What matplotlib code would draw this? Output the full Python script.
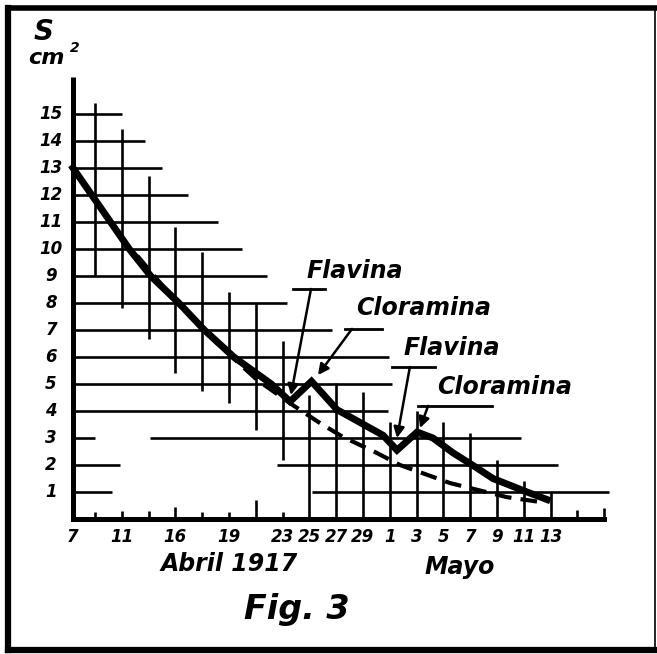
import matplotlib
matplotlib.use('Agg')
import matplotlib.pyplot as plt

# x is measured in tick steps (the y axis sits at 0, tick k sits at 0.82 + k - 1)
tick_pos = [0] + [0.82 + k for k in range(20)]
tick_labels = {0: '7', 2: '11', 4: '16', 6: '19', 8: '23', 9: '25', 10: '27', 11: '29',
               12: '1', 13: '3', 14: '5', 15: '7', 16: '9', 17: '11', 18: '13'}
y_levels = list(range(1, 16))

# measured surface, cm2
solid_x = [0, 0.7, 1.4, 2.1, 2.9, 3.95, 4.9, 6.0, 7.4, 8.1, 8.9, 9.85, 11.57, 12.09,
           12.84, 13.43, 14.18, 14.9, 15.67, 16.94, 17.69]
solid_y = [13.0, 12.0, 11.0, 10.0, 9.0, 8.0, 7.0, 6.0, 5.0, 4.35, 5.1, 4.05, 3.1, 2.55,
           3.22, 3.0, 2.45, 2.0, 1.5, 1.0, 0.72]
# expected curve without treatment
dash_x = [2.4, 3.88, 5.37, 6.87, 8.2, 9.22, 10.07, 11.27, 12.2, 14.07, 16.19, 17.43]
dash_y = [9.75, 8.0, 6.52, 5.15, 4.22, 3.55, 3.04, 2.48, 2.0, 1.33, 0.81, 0.63]

# staircase grid of the original drawing
h_segments = {15: [(0, 1.83)], 14: [(0, 2.69)], 13: [(0, 3.32)], 12: [(0, 4.29)],
              11: [(0, 5.41)], 10: [(0, 6.31)], 9: [(0, 7.24)], 8: [(0, 7.99)],
              7: [(0, 9.66)], 6: [(0, 11.8)], 5: [(0, 11.9)], 4: [(0, 11.75)],
              3: [(0, 0.82), (2.87, 16.7)], 2: [(0, 1.75), (7.61, 18.1)],
              1: [(0, 1.46), (8.92, 20.0)]}
v_upper = {1: (9.0, 15.4), 2: (7.8, 14.45), 3: (6.67, 12.7), 4: (5.4, 10.8),
           5: (4.75, 9.9), 6: (4.3, 8.4), 7: (3.3, 8.0), 8: (2.2, 6.6)}
v_ticks = {1: 0.25, 2: 0.3, 3: 0.3, 4: 0.45, 5: 0.25, 6: 0.25, 7: 0.7, 8: 0.25}
v_full = {9: 4.6, 10: 5.05, 11: 4.7, 12: 3.6, 13: 4.0, 14: 3.6, 15: 3.2, 16: 2.2,
          17: 1.4, 18: 1.0, 19: 0.35, 20: 0.4}

# annotations: text, text pos, bar (x0, x1, y), arrow start, arrow tip
notes = [('Flavina', (10.52, 9.19), (8.21, 9.40, 8.52), (8.88, 8.52), (8.13, 4.59)),
         ('Cloramina', (13.1, 7.81), (10.15, 11.53, 7.04), (10.41, 7.04), (9.14, 5.33)),
         ('Flavina', (14.14, 6.33), (11.9, 13.5, 5.63), (12.57, 5.63), (12.09, 3.0)),
         ('Cloramina', (16.12, 4.89), (12.87, 15.63, 4.2), (13.25, 4.19), (12.95, 3.37))]

fig = plt.figure(figsize=(6.57, 6.54), dpi=100)
ax = fig.add_axes([0, 0, 1, 1])
ax.set_xlim(-73 / 26.8, 584 / 26.8)
ax.set_ylim((519 - 654) / 27, 519 / 27)
ax.axis('off')

bi = dict(fontweight='bold', style='italic', color='black')
glw = 1.9

for y, segs in h_segments.items():
    for x0, x1 in segs:
        ax.plot([x0, x1], [y, y], color='black', lw=glw, solid_capstyle='butt')
for k, (y0, y1) in v_upper.items():
    ax.plot([tick_pos[k]] * 2, [y0, y1], color='black', lw=glw, solid_capstyle='butt')
for k, h in v_ticks.items():
    ax.plot([tick_pos[k]] * 2, [0, h], color='black', lw=glw, solid_capstyle='butt')
for k, h in v_full.items():
    ax.plot([tick_pos[k]] * 2, [0, h], color='black', lw=glw, solid_capstyle='butt')

# axes
ax.plot([0, 0], [0, 16.37], color='black', lw=3.6, solid_capstyle='butt')
ax.plot([0, tick_pos[20]], [0, 0], color='black', lw=3.6, solid_capstyle='projecting')

ax.plot(dash_x, dash_y, color='black', lw=3.0, dashes=(4, 2.2))
ax.plot(solid_x, solid_y, color='black', lw=5.0, solid_joinstyle='miter')

for y in y_levels:
    ax.text(-0.82, y, str(y), ha='center', va='center', fontsize=12, **bi)
for k, lab in tick_labels.items():
    ax.text(tick_pos[k], -0.68, lab, ha='center', va='center', fontsize=12, **bi)

ax.text(-1.08, 18.04, 'S', ha='center', va='center', fontsize=20, **bi)
ax.text(-1.0, 17.07, 'cm', ha='center', va='center', fontsize=16, **bi)
ax.text(0.08, 17.45, '2', ha='center', va='center', fontsize=10, **bi)
ax.text(5.82, -1.65, 'Abril 1917', ha='center', va='center', fontsize=17, **bi)
ax.text(14.44, -1.76, 'Mayo', ha='center', va='center', fontsize=17, **bi)
ax.text(8.36, -3.37, 'Fig. 3', ha='center', va='center', fontsize=24, **bi)

for txt, tpos, bar, start, tip in notes:
    ax.text(tpos[0], tpos[1], txt, ha='center', va='center', fontsize=17, **bi)
    ax.plot([bar[0], bar[1]], [bar[2], bar[2]], color='black', lw=2.0)
    ax.annotate('', xy=tip, xytext=start,
                arrowprops=dict(arrowstyle='-|>', color='black', lw=1.8,
                                mutation_scale=16, shrinkA=0, shrinkB=0))

# outer frame of the scanned figure
W, H = 657, 654
fr = dict(color='black', transform=ax.transAxes, clip_on=False, solid_capstyle='projecting')
ax.plot([8 / W, 8 / W], [1 - 8 / H, 1 - 650 / H], lw=4.5, **fr)
ax.plot([8 / W, 655 / W], [1 - 8 / H, 1 - 8 / H], lw=4.0, **fr)
ax.plot([8 / W, 655 / W], [1 - 650 / H, 1 - 650 / H], lw=4.5, **fr)
ax.plot([655 / W, 655 / W], [1 - 8 / H, 1 - 650 / H], lw=1.2, **fr)

fig.savefig('out.png', dpi=100)
